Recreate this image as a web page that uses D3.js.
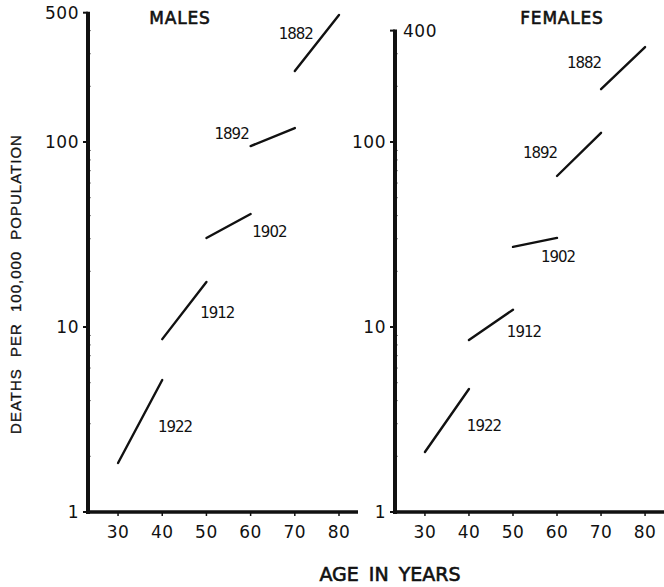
<!DOCTYPE html>
<html>
<head>
<meta charset="utf-8">
<script src="https://cdn.jsdelivr.net/npm/d3@7"></script>
<style>
  html, body { margin: 0; padding: 0; background: #fff; }
  svg { display: block; }
  text { fill: #111; font-family: "DejaVu Sans", sans-serif; }
</style>
</head>
<body>
<svg id="chart" width="664" height="587"></svg>
<script>
// Death rates per 100,000 by age, followed by birth cohort
const ages = [30, 40, 50, 60, 70, 80];
const cohorts = ["1882", "1892", "1902", "1912", "1922"];
const startAge = [70, 60, 50, 40, 30];
const spanYears = 10;
const maleRates = [[242, 486], [95, 119], [30.3, 40.8], [8.6, 17.5], [1.84, 5.17]];
const femaleRates = [[193, 326], [65.5, 112], [27.1, 30.3], [8.5, 12.4], [2.11, 4.62]];
const maleTicks = [1, 10, 100, 500];
const femaleTicks = [1, 10, 100, 400];

const svg = d3.select("#chart");
const ink = "#111";

// layout for the two panels
const yBottom = 512;
const pxPerDecade = 185;
const ageDomain = [23.2, 84.3];

const panels = [
  {
    title: "MALES", titleX: 180, rates: maleRates, ticks: maleTicks,
    xRange: [88, 358], topLabelRight: false,
    labelOffsets: [[1, -37], [-19, -13], [63, -6], [55, -27], [57, -36]]
  },
  {
    title: "FEMALES", titleX: 562, rates: femaleRates, ticks: femaleTicks,
    xRange: [395, 664], topLabelRight: true,
    labelOffsets: [[-17, -27], [-17, -23], [45, 10], [55, -8], [59, -26]]
  }
];

panels.forEach(p => {
  const top = d3.max(p.ticks);
  const x = d3.scaleLinear().domain(ageDomain).range(p.xRange);
  const y = d3.scaleLog().domain([1, top])
    .range([yBottom, yBottom - pxPerDecade * Math.log10(top)]);
  const ax = p.xRange[0];
  const g = svg.append("g");

  // faint minor log ticks on the inner side of the vertical axis
  const minor = [];
  for (let d = 1; d < top; d *= 10) {
    for (let k = 2; k <= 9; k++) { if (d * k < top) minor.push(d * k); }
  }
  g.selectAll("line.minor").data(minor).join("line")
    .attr("x1", ax).attr("x2", ax + 2.5)
    .attr("y1", d => y(d)).attr("y2", d => y(d))
    .attr("stroke", ink).attr("stroke-width", 1);

  // major ticks pointing outward
  g.selectAll("line.major").data(p.ticks).join("line")
    .attr("x1", ax - 5).attr("x2", ax)
    .attr("y1", d => y(d)).attr("y2", d => y(d))
    .attr("stroke", ink).attr("stroke-width", 2);

  // vertical axis
  g.append("line")
    .attr("x1", ax).attr("x2", ax)
    .attr("y1", y(top) - 1).attr("y2", yBottom + 2)
    .attr("stroke", ink).attr("stroke-width", 4);

  // horizontal axis
  g.append("line")
    .attr("x1", ax - 2).attr("x2", p.xRange[1])
    .attr("y1", yBottom).attr("y2", yBottom)
    .attr("stroke", ink).attr("stroke-width", 3.5);

  // age ticks
  g.selectAll("line.age").data(ages).join("line")
    .attr("x1", d => x(d)).attr("x2", d => x(d))
    .attr("y1", yBottom).attr("y2", yBottom + 4)
    .attr("stroke", ink).attr("stroke-width", 1.5);

  g.selectAll("text.age").data(ages).join("text")
    .attr("x", d => x(d)).attr("y", 538)
    .attr("text-anchor", "middle")
    .attr("font-size", 17)
    .attr("letter-spacing", 0.5)
    .text(d => d);

  // value labels on the log axis
  g.selectAll("text.val").data(p.ticks).join("text")
    .attr("x", d => (p.topLabelRight && d === top) ? ax + 8 : ax - 9)
    .attr("y", d => y(d))
    .attr("dy", "0.36em")
    .attr("text-anchor", d => (p.topLabelRight && d === top) ? "start" : "end")
    .attr("font-size", 17)
    .attr("letter-spacing", 0.5)
    .text(d => d);

  // panel title
  g.append("text")
    .attr("x", p.titleX).attr("y", 24)
    .attr("text-anchor", "middle")
    .attr("font-size", 17)
    .attr("letter-spacing", 0.8)
    .attr("stroke", ink).attr("stroke-width", 0.6)
    .text(p.title);

  // cohort segments
  const segs = cohorts.map((c, i) => ({
    cohort: c,
    a0: startAge[i], a1: startAge[i] + spanYears,
    v0: p.rates[i][0], v1: p.rates[i][1],
    off: p.labelOffsets[i]
  }));

  g.selectAll("line.seg").data(segs).join("line")
    .attr("x1", d => x(d.a0)).attr("y1", d => y(d.v0))
    .attr("x2", d => x(d.a1)).attr("y2", d => y(d.v1))
    .attr("stroke", ink).attr("stroke-width", 2.4)
    .attr("stroke-linecap", "round");

  g.selectAll("text.seg").data(segs).join("text")
    .attr("x", d => x(d.a0) + d.off[0])
    .attr("y", d => y(d.v0) + d.off[1])
    .attr("dy", "0.36em")
    .attr("text-anchor", "middle")
    .attr("font-size", 15)
    .attr("letter-spacing", -1)
    .text(d => d.cohort);
});

// shared axis titles
svg.append("text")
  .attr("transform", "translate(21,284) rotate(-90)")
  .attr("text-anchor", "middle")
  .style("font-family", "'Liberation Sans', Arial, sans-serif")
  .attr("font-size", 15)
  .attr("letter-spacing", 1)
  .attr("word-spacing", 6)
  .attr("stroke", ink).attr("stroke-width", 0.3)
  .text("DEATHS PER 100,000 POPULATION");

svg.append("text")
  .attr("x", 390).attr("y", 581)
  .attr("text-anchor", "middle")
  .attr("font-size", 19)
  .attr("word-spacing", 4)
  .attr("stroke", ink).attr("stroke-width", 0.6)
  .text("AGE IN YEARS");
</script>
</body>
</html>
